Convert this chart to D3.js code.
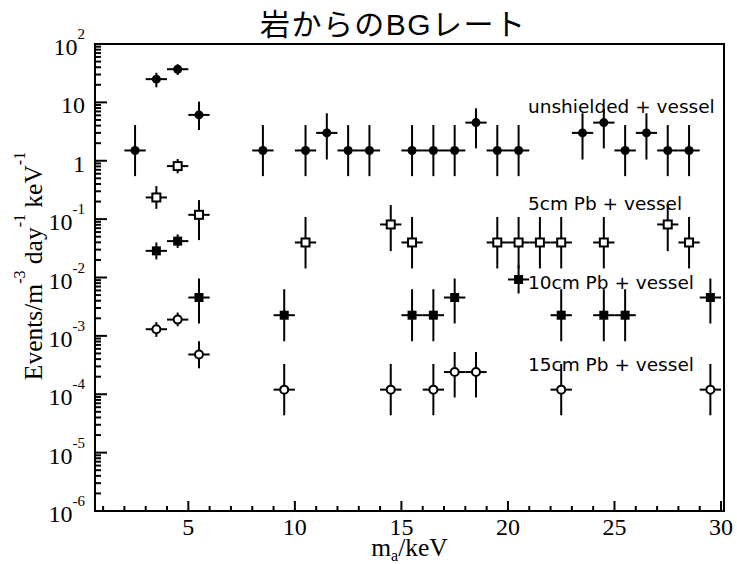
<!DOCTYPE html>
<html>
<head>
<meta charset="utf-8">
<script src="https://cdn.jsdelivr.net/npm/d3@7"></script>
<style>
  body { margin: 0; background: #fff; }
  svg { display: block; }
</style>
</head>
<body>
<script>
var svg_width = 737;
var svg_height = 564;
var plotLeft = 95, plotRight = 724, plotTop = 44, plotBottom = 511;

// unshielded + vessel (filled circles)
var unshieldedX  = [2.5, 3.5, 4.5, 5.5, 8.5, 10.5, 11.5, 12.5, 13.5, 15.5, 16.5, 17.5, 18.5, 19.5, 20.5, 23.5, 24.5, 25.5, 26.5, 27.5, 28.5];
var unshieldedY  = [1.5, 25, 37, 6.1, 1.5, 1.5, 3, 1.5, 1.5, 1.5, 1.5, 1.5, 4.5, 1.5, 1.5, 3, 4.5, 1.5, 3, 1.5, 1.5];
var unshieldedLo = [0.545, 18.1, 29.4, 3.36, 0.545, 0.545, 1.05, 0.545, 0.545, 0.545, 0.545, 0.545, 1.63, 0.545, 0.545, 1.05, 1.63, 0.545, 1.05, 0.545, 0.545];
var unshieldedHi = [4.08, 32.2, 44.9, 10.3, 4.08, 4.08, 6.5, 4.08, 4.08, 4.08, 4.08, 4.08, 7.9, 4.08, 4.08, 6.5, 7.9, 4.08, 6.5, 4.08, 4.08];

// 5cm Pb + vessel (open squares)
var pb5X  = [3.5, 4.5, 5.5, 10.5, 14.5, 15.5, 19.5, 20.5, 21.5, 22.5, 24.5, 27.5, 28.5];
var pb5Y  = [0.235, 0.81, 0.1185, 0.0398, 0.081, 0.0398, 0.0398, 0.0398, 0.0398, 0.0398, 0.0398, 0.081, 0.0398];
var pb5Lo = [0.15, 0.61, 0.0437, 0.0143, 0.0283, 0.0143, 0.0143, 0.0143, 0.0143, 0.0143, 0.0143, 0.0283, 0.0143];
var pb5Hi = [0.368, 1.07, 0.212, 0.109, 0.174, 0.109, 0.109, 0.109, 0.109, 0.109, 0.109, 0.174, 0.109];

// 10cm Pb + vessel (filled squares)
var pb10X  = [3.5, 4.5, 5.5, 9.5, 15.5, 16.5, 17.5, 20.5, 22.5, 24.5, 25.5, 29.5];
var pb10Y  = [0.0286, 0.042, 0.00454, 0.00226, 0.00226, 0.00226, 0.00454, 0.00925, 0.00226, 0.00226, 0.00226, 0.00454];
var pb10Lo = [0.0204, 0.0322, 0.00163, 0.00081, 0.00081, 0.00081, 0.00163, 0.00532, 0.00081, 0.00081, 0.00081, 0.00163];
var pb10Hi = [0.0398, 0.0547, 0.0096, 0.0063, 0.0063, 0.0063, 0.0096, 0.01626, 0.0063, 0.0063, 0.0063, 0.0096];

// 15cm Pb + vessel (open circles)
var pb15X  = [3.5, 4.5, 5.5, 9.5, 14.5, 16.5, 17.5, 18.5, 22.5, 29.5];
var pb15Y  = [0.0013, 0.0019, 0.00048, 0.00012, 0.00012, 0.00012, 0.00024, 0.00024, 0.00012, 0.00012];
var pb15Lo = [0.00096, 0.00146, 0.000278, 0.0000436, 0.0000436, 0.0000436, 0.000088, 0.000088, 0.0000436, 0.0000436];
var pb15Hi = [0.00173, 0.00251, 0.00081, 0.00033, 0.00033, 0.00033, 0.00053, 0.00053, 0.00033, 0.00033];

var legendLabels = ['unshielded + vessel', '5cm Pb + vessel', '10cm Pb + vessel', '15cm Pb + vessel'];
var legendBaselines = [113, 210, 289, 371];

var yTickValues = [1e-6, 1e-5, 1e-4, 1e-3, 1e-2, 1e-1, 1, 10, 100];
var yTickBase = ['10', '10', '10', '10', '10', '10', '1', '10', '10'];
var yTickExp = ['-6', '-5', '-4', '-3', '-2', '-1', '', '', '2'];
var xTickValues = [5, 10, 15, 20, 25, 30];

var binHalf = 0.5;

var svg = d3.select('body').append('svg')
            .attr('width', svg_width)
            .attr('height', svg_height);

var xscale = d3.scaleLinear().domain([0.62, 30.14]).range([plotLeft, plotRight]);
var yscale = d3.scaleLog().domain([1e-6, 100]).range([plotBottom, plotTop]);

// frame
svg.append('rect')
    .attr('x', plotLeft).attr('y', plotTop)
    .attr('width', plotRight - plotLeft).attr('height', plotBottom - plotTop)
    .attr('fill', 'none').attr('stroke', '#000').attr('stroke-width', 2);

// x ticks (inside, pointing up)
var xMinor = d3.range(1, 31);
svg.append('g').selectAll('line').data(xMinor).enter().append('line')
    .attr('x1', function(d) { return xscale(d); })
    .attr('x2', function(d) { return xscale(d); })
    .attr('y1', plotBottom)
    .attr('y2', function(d) { return d % 5 === 0 ? plotBottom - 10 : plotBottom - 5; })
    .attr('stroke', '#000').attr('stroke-width', 2);

svg.append('g').selectAll('text').data(xTickValues).enter().append('text')
    .attr('x', function(d) { return xscale(d); })
    .attr('y', plotBottom + 24)
    .attr('text-anchor', 'middle')
    .attr('font-family', 'Liberation Serif, serif')
    .attr('font-size', 24)
    .text(function(d) { return d; });

// y ticks (inside, pointing right)
var yMinor = [];
for (var k = -6; k < 2; k++) {
  for (var m = 2; m <= 9; m++) yMinor.push(m * Math.pow(10, k));
}
svg.append('g').selectAll('line').data(yMinor).enter().append('line')
    .attr('x1', plotLeft).attr('x2', plotLeft + 6)
    .attr('y1', function(d) { return yscale(d); })
    .attr('y2', function(d) { return yscale(d); })
    .attr('stroke', '#000').attr('stroke-width', 2);
svg.append('g').selectAll('line').data(yTickValues).enter().append('line')
    .attr('x1', plotLeft).attr('x2', plotLeft + 12)
    .attr('y1', function(d) { return yscale(d); })
    .attr('y2', function(d) { return yscale(d); })
    .attr('stroke', '#000').attr('stroke-width', 2);

var ylab = svg.append('g').selectAll('text').data(yTickValues).enter().append('text')
    .attr('x', 85)
    .attr('y', function(d) { return yscale(d) + 11; })
    .attr('text-anchor', 'end')
    .attr('font-family', 'Liberation Serif, serif')
    .attr('font-size', 24);
ylab.append('tspan').text(function(d, i) { return yTickBase[i]; });
ylab.append('tspan')
    .attr('font-size', 15)
    .attr('dy', -16)
    .text(function(d, i) { return yTickExp[i]; });

// axis titles
var xt = svg.append('text')
    .attr('x', (plotLeft + plotRight) / 2)
    .attr('y', 556)
    .attr('text-anchor', 'middle')
    .attr('font-family', 'Liberation Serif, serif')
    .attr('font-size', 25.5);
xt.append('tspan').text('m');
xt.append('tspan').attr('font-size', 16).attr('dy', 5).text('a');
xt.append('tspan').attr('dy', -5).text('/keV');

var yt = svg.append('text')
    .attr('transform', 'translate(42,' + 266 + ') rotate(-90)')
    .attr('text-anchor', 'middle')
    .attr('font-family', 'Liberation Serif, serif')
    .attr('font-size', 25.5);
yt.append('tspan').text('Events/m');
yt.append('tspan').attr('font-size', 16).attr('dy', -17).text('-3');
yt.append('tspan').attr('dy', 17).text(' day');
yt.append('tspan').attr('font-size', 16).attr('dy', -17).text('-1');
yt.append('tspan').attr('dy', 17).text(' keV');
yt.append('tspan').attr('font-size', 16).attr('dy', -17).text('-1');

// title
svg.append('text')
    .attr('x', 260).attr('y', 35)
    .attr('textLength', 265)
    .attr('lengthAdjust', 'spacing')
    .attr('font-family', 'Liberation Sans, Noto Sans CJK JP, sans-serif')
    .attr('font-size', 30)
    .text('岩からのBGレート');

// series
function makeSeries(xs, ys, lo, hi, marker) {
  return xs.map(function(x, i) { return { x: x, y: ys[i], lo: lo[i], hi: hi[i], marker: marker }; });
}
var series = [
  makeSeries(unshieldedX, unshieldedY, unshieldedLo, unshieldedHi, 'fcircle'),
  makeSeries(pb5X, pb5Y, pb5Lo, pb5Hi, 'osquare'),
  makeSeries(pb10X, pb10Y, pb10Lo, pb10Hi, 'fsquare'),
  makeSeries(pb15X, pb15Y, pb15Lo, pb15Hi, 'ocircle')
];

var plot = svg.append('g');
series.forEach(function(s) {
  var g = plot.append('g');
  g.selectAll('line.h').data(s).enter().append('line')
      .attr('x1', function(d) { return xscale(d.x - binHalf); })
      .attr('x2', function(d) { return xscale(d.x + binHalf); })
      .attr('y1', function(d) { return yscale(d.y); })
      .attr('y2', function(d) { return yscale(d.y); })
      .attr('stroke', '#000').attr('stroke-width', 2);
  g.selectAll('line.v').data(s).enter().append('line')
      .attr('x1', function(d) { return xscale(d.x); })
      .attr('x2', function(d) { return xscale(d.x); })
      .attr('y1', function(d) { return yscale(d.lo); })
      .attr('y2', function(d) { return yscale(d.hi); })
      .attr('stroke', '#000').attr('stroke-width', 2);
  s.forEach(function(d) {
    var cx = xscale(d.x), cy = yscale(d.y);
    if (d.marker === 'fcircle') {
      g.append('circle').attr('cx', cx).attr('cy', cy).attr('r', 4.5).attr('fill', '#000');
    } else if (d.marker === 'ocircle') {
      g.append('circle').attr('cx', cx).attr('cy', cy).attr('r', 4).attr('fill', '#fff')
          .attr('stroke', '#000').attr('stroke-width', 2);
    } else if (d.marker === 'fsquare') {
      g.append('rect').attr('x', cx - 4.5).attr('y', cy - 4.5).attr('width', 9).attr('height', 9)
          .attr('fill', '#000');
    } else {
      g.append('rect').attr('x', cx - 4).attr('y', cy - 4).attr('width', 8).attr('height', 8)
          .attr('fill', '#fff').attr('stroke', '#000').attr('stroke-width', 2);
    }
  });
});

// legend texts
svg.append('g').selectAll('text').data(legendLabels).enter().append('text')
    .attr('x', 528)
    .attr('y', function(d, i) { return legendBaselines[i]; })
    .attr('font-family', 'DejaVu Sans, sans-serif')
    .attr('font-size', 18.5)
    .text(function(d) { return d; });
</script>
</body>
</html>
